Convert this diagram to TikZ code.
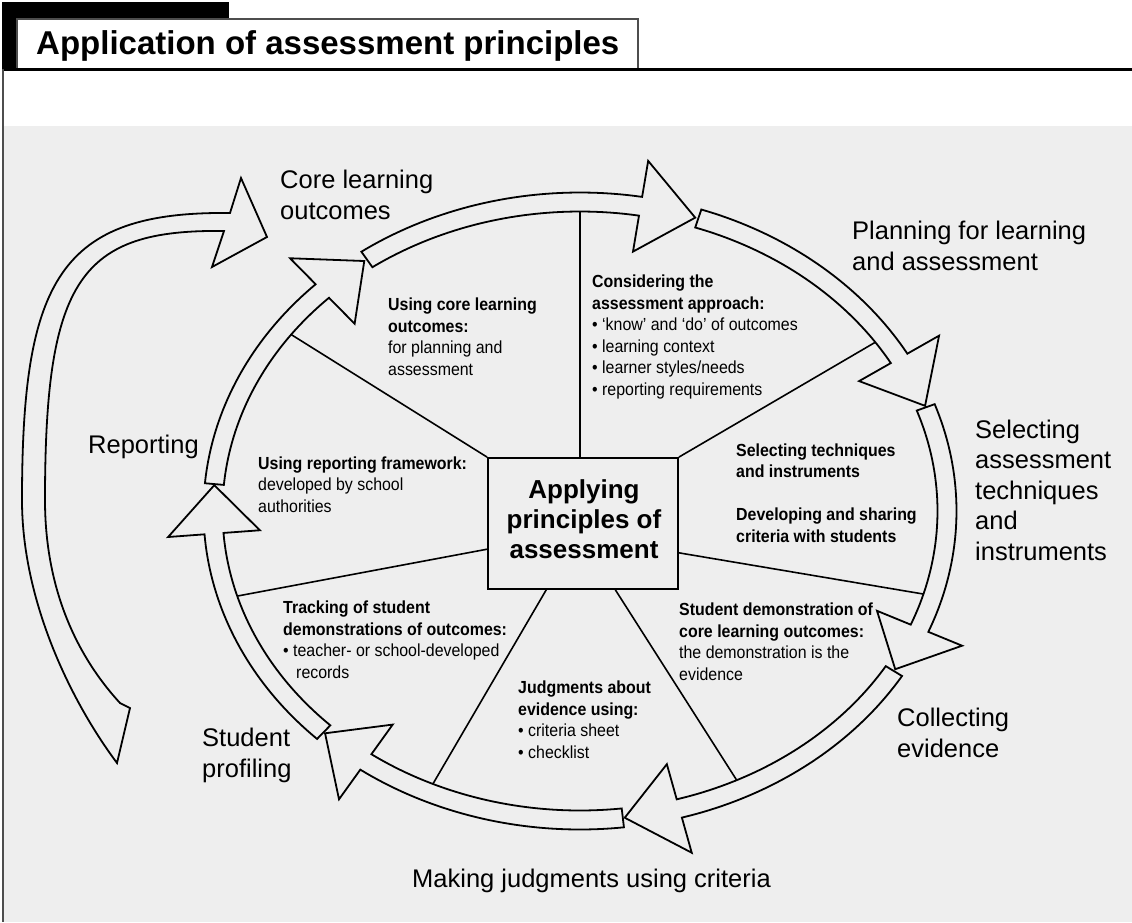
\documentclass[tikz,border=0pt]{standalone}
\usepackage{fontspec}
\setmainfont{Liberation Sans}
\newfontfamily\narrowfont{Liberation Sans}[FakeStretch=0.91]
\definecolor{panel}{HTML}{EEEEEE}
\definecolor{rule}{HTML}{4D4D4D}

\begin{document}
\begin{tikzpicture}[x=1pt, y=-1pt,
  band/.style={draw, fill=panel, line width=1.8pt},
  spoke/.style={line width=1.6pt},
  stage/.style={anchor=base west, align=left, inner sep=0pt, font=\fontsize{25.5}{30.5}\selectfont},
  note/.style={anchor=base west, align=left, inner sep=0pt, font=\narrowfont\fontsize{17.5}{21.5}\selectfont}]
  \useasboundingbox (0,0) rectangle (1132,922);

  % page and heading
  \fill[white] (0,0) rectangle (1132,922);
  \fill[panel] (3,126) rectangle (1132,922);
  \fill[black] (2,2) rectangle (229,19);
  \fill[black] (2,2) rectangle (17,70);
  \draw[rule, line width=1.2pt, fill=white] (17,19) rectangle (638,69);
  \draw[line width=2.6pt] (2,69.5) -- (1132,69.5);
  \draw[rule, line width=2pt] (2.5,69) -- (2.5,922);
  \node[anchor=base west, inner sep=0pt, font=\bfseries\fontsize{33}{40}\selectfont] (title) at (36,54) {Application of assessment principles};

  % long arrow round the left
  \draw[band] (117,763) .. controls (70,700) and (22,600) .. (22,500)
    .. controls (22,280) and (60,211) .. (230,213) -- (241,178) -- (267,237) -- (212,267) -- (224,231)
    .. controls (80,229) and (45,280) .. (45,500)
    .. controls (45,600) and (85,665) .. (120,703) -- (130,708) -- cycle;

  % spokes
  \node[draw, line width=1.8pt, fill=panel, minimum width=190pt, minimum height=131pt, inner sep=0pt] (hub) at (583,523.5) {};
  \coordinate (sN)  at ({580+357.5*cos(-90)},{511+299.5*sin(-90)});
  \coordinate (sNE) at ({580+357.5*cos(-34.3)},{511+299.5*sin(-34.3)});
  \coordinate (sE)  at ({580+357.5*cos(16.1)},{511+299.5*sin(16.1)});
  \coordinate (sSE) at ({580+357.5*cos(64)},{511+299.5*sin(64)});
  \coordinate (sSW) at ({580+357.5*cos(114.3)},{511+299.5*sin(114.3)});
  \coordinate (sW)  at ({580+357.5*cos(163.5)},{511+299.5*sin(163.5)});
  \coordinate (sNW) at ({580+357.5*cos(216.1)},{511+299.5*sin(216.1)});
  \draw[spoke] (sN |- hub.north) -- (sN);
  \draw[spoke] (hub.north west) -- (sNW);
  \draw[spoke] (hub.north east) -- (sNE);
  \draw[spoke] (hub.195) -- (sW);
  \draw[spoke] (hub.343.3) -- (sE);
  \draw[spoke] (hub.241.6) -- (sSW);
  \draw[spoke] (hub.296.2) -- (sSE);

  % ring of arrows: tail, head base, tip
  \foreach \ta/\tb/\tc in {-125.5/-80.5/-71.7, -71.2/-29.6/-19.9, -19.6/22.3/30.8,
      31.2/74.3/83, 83.3/125.7/134, 134.3/175.8/184.8, 185/225.4/234} {
    \draw[band] plot[domain=\ta:\tb, samples=40] ({580+376.5*cos(\x)},{511+318.5*sin(\x)})
      -- ({580+413*cos(\tb)},{511+355*sin(\tb)})
      -- ({580+367*cos(\tc)},{511+309*sin(\tc)})
      -- ({580+321*cos(\tb)},{511+263*sin(\tb)})
      -- plot[domain=\tb:\ta, samples=40] ({580+357.5*cos(\x)},{511+299.5*sin(\x)})
      -- cycle;
  }

  \node[anchor=base, align=center, inner sep=0pt, font=\bfseries\fontsize{26}{30}\selectfont] (hubtext) at (584,558) {Applying\\principles of\\assessment};

  % stage labels (placed at the baseline of their last line)
  \node[stage] (core) at (280,219) {Core learning\\outcomes};
  \node[stage] (planning) at (852,270) {Planning for learning\\and assessment};
  \node[stage] (selecting) at (975,560) {Selecting\\assessment\\techniques\\and\\instruments};
  \node[stage] (collecting) at (897,757) {Collecting\\evidence};
  \node[stage] (making) at (412,887) {Making judgments using criteria};
  \node[stage] (profiling) at (202,777) {Student\\profiling};
  \node[stage] (reporting) at (88,453) {Reporting};

  % notes in the segments
  \node[note] (usecore) at (388,375) {\textbf{Using core learning}\\\textbf{outcomes:}\\for planning and\\assessment};
  \node[note] (approach) at (592,395) {\textbf{Considering the}\\\textbf{assessment approach:}\\• ‘know’ and ‘do’ of outcomes\\• learning context\\• learner styles/needs\\• reporting requirements};
  \node[note] (techniques) at (736,542) {\textbf{Selecting techniques}\\\textbf{and instruments}\\[21.5pt]\textbf{Developing and sharing}\\\textbf{criteria with students}};
  \node[note] (demo) at (679,680) {\textbf{Student demonstration of}\\\textbf{core learning outcomes:}\\the demonstration is the\\evidence};
  \node[note] (judging) at (518,758) {\textbf{Judgments about}\\\textbf{evidence using:}\\• criteria sheet\\• checklist};
  \node[note] (tracking) at (283,678) {\textbf{Tracking of student}\\\textbf{demonstrations of outcomes:}\\• teacher- or school-developed\\\hspace*{13pt}records};
  \node[note] (framework) at (258,512) {\textbf{Using reporting framework:}\\developed by school\\authorities};
\end{tikzpicture}
\end{document}
